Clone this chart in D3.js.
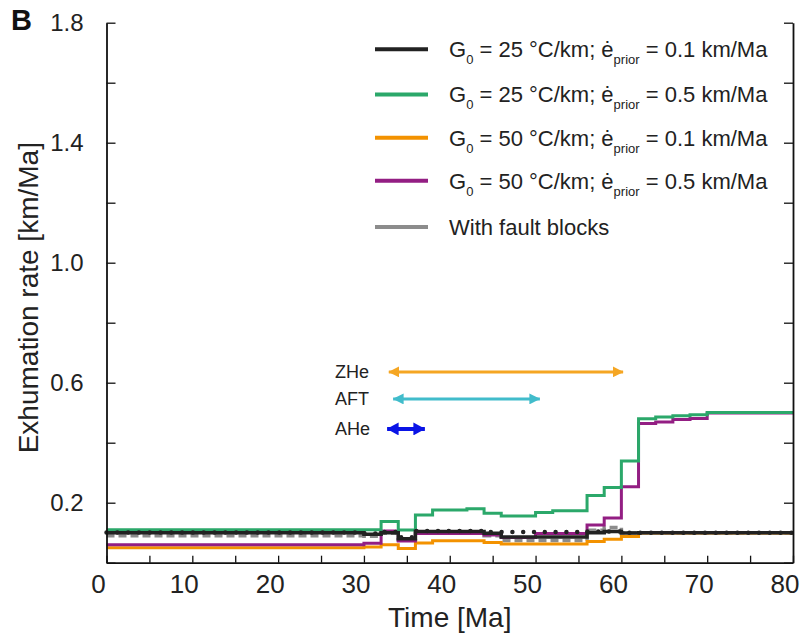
<!DOCTYPE html>
<html>
<head>
<meta charset="utf-8">
<script src="https://cdn.jsdelivr.net/npm/d3@7/dist/d3.min.js"></script>
<style>
  html, body { margin: 0; padding: 0; background: #fff; }
  svg { display: block; font-family: "Liberation Sans", Arial, Helvetica, sans-serif; }
</style>
</head>
<body>
<svg id="chart" width="803" height="638"></svg>
<script>
// Start of each 2 Ma time bin (the last bin ends at 80 Ma)
const binStarts = [0, 2, 4, 6, 8, 10, 12, 14, 16, 18, 20, 22, 24, 26, 28, 30, 32, 34, 36, 38,
                   40, 42, 44, 46, 48, 50, 52, 54, 56, 58, 60, 62, 64, 66, 68, 70, 72, 74, 76, 78];
const timeEnd = 80;

// Exhumation rate [km/Ma] per time bin
const rateG25e01 = [0.100, 0.100, 0.100, 0.100, 0.100, 0.100, 0.100, 0.100, 0.100, 0.100,
                    0.100, 0.100, 0.100, 0.100, 0.100, 0.095, 0.100, 0.080, 0.104, 0.104,
                    0.104, 0.104, 0.098, 0.086, 0.086, 0.086, 0.086, 0.086, 0.100, 0.104,
                    0.099, 0.100, 0.100, 0.100, 0.100, 0.100, 0.100, 0.100, 0.100, 0.100];
const rateG25e05 = [0.110, 0.110, 0.110, 0.110, 0.110, 0.110, 0.110, 0.110, 0.110, 0.110,
                    0.110, 0.110, 0.110, 0.110, 0.110, 0.110, 0.137, 0.109, 0.159, 0.176,
                    0.176, 0.180, 0.165, 0.156, 0.156, 0.167, 0.173, 0.173, 0.224, 0.251,
                    0.339, 0.480, 0.486, 0.490, 0.493, 0.501, 0.501, 0.501, 0.501, 0.501];
const rateG50e01 = [0.050, 0.050, 0.050, 0.050, 0.050, 0.050, 0.050, 0.050, 0.050, 0.050,
                    0.050, 0.050, 0.050, 0.050, 0.050, 0.052, 0.060, 0.047, 0.066, 0.073,
                    0.073, 0.073, 0.067, 0.062, 0.062, 0.062, 0.062, 0.062, 0.071, 0.078,
                    0.087, 0.099, 0.099, 0.099, 0.099, 0.099, 0.099, 0.099, 0.099, 0.099];
const rateG50e05 = [0.060, 0.060, 0.060, 0.060, 0.060, 0.060, 0.060, 0.060, 0.060, 0.060,
                    0.060, 0.060, 0.060, 0.060, 0.060, 0.065, 0.106, 0.072, 0.097, 0.097,
                    0.097, 0.097, 0.092, 0.084, 0.084, 0.097, 0.097, 0.097, 0.126, 0.149,
                    0.253, 0.464, 0.469, 0.477, 0.481, 0.499, 0.499, 0.499, 0.499, 0.499];
const rateDotted = [0.101, 0.101, 0.101, 0.101, 0.101, 0.101, 0.101, 0.101, 0.101, 0.101,
                    0.101, 0.101, 0.101, 0.101, 0.101, 0.097, 0.102, 0.085, 0.106, 0.106,
                    0.106, 0.106, 0.102, 0.102, 0.102, 0.102, 0.102, 0.102, 0.104, 0.104,
                    0.100, 0.100, 0.100, 0.100, 0.100, 0.100, 0.100, 0.100, 0.100, 0.100];
const rateFaultBlocks = [0.090, 0.090, 0.090, 0.090, 0.090, 0.090, 0.090, 0.090, 0.090, 0.090,
                    0.090, 0.090, 0.090, 0.090, 0.090, 0.088, 0.098, 0.076, 0.098, 0.098,
                    0.098, 0.098, 0.090, 0.074, 0.074, 0.074, 0.074, 0.074, 0.108, 0.117,
                    0.100, 0.100, 0.100, 0.100, 0.100, 0.100, 0.100, 0.100, 0.100, 0.100];

// Thermochronometer age ranges [Ma] and the rate level where each arrow sits
const chronoNames = ["ZHe", "AFT", "AHe"];
const chronoStart = [32.9, 33.4, 32.7];
const chronoEnd   = [60.2, 50.5, 37.1];
const chronoLevel = [0.636, 0.546, 0.446];
const chronoColors = ["#f5a623", "#41bccb", "#0a14e6"];

// Axis ticks
const xTicks = [0, 5, 10, 15, 20, 25, 30, 35, 40, 45, 50, 55, 60, 65, 70, 75, 80];
const xLabelled = [0, 10, 20, 30, 40, 50, 60, 70, 80];
const yTicks = [0, 0.2, 0.4, 0.6, 0.8, 1.0, 1.2, 1.4, 1.6, 1.8];
const yLabelled = [0.2, 0.6, 1.0, 1.4, 1.8];

// Legend
const legendLabels = [
  { g: "25", e: "0.1" },
  { g: "25", e: "0.5" },
  { g: "50", e: "0.1" },
  { g: "50", e: "0.5" },
  { text: "With fault blocks" }
];
const legendColors = ["#222222", "#2ba86a", "#f39200", "#931e83", "#8c8c8c"];

const svg = d3.select("#chart");
const plotL = 106.5, plotR = 793, plotT = 22.7, plotB = 562.7;

const x = d3.scaleLinear().domain([0, 80]).range([plotL, plotR]);
const y = d3.scaleLinear().domain([0, 1.8]).range([plotB, plotT]);

// ---- data lines ----
const stepLine = d3.line()
  .x(d => x(d[0]))
  .y(d => y(d[1]))
  .curve(d3.curveStepAfter);

function points(vals) {
  const p = binStarts.map((t, i) => [t, vals[i]]);
  p.push([timeEnd, vals[vals.length - 1]]);
  return p;
}

const series = [
  { vals: rateFaultBlocks, color: "#8c8c8c", width: 3.5, dash: "8,4", cap: "butt" },
  { vals: rateG50e01, color: "#f39200", width: 3, dash: null, cap: "butt" },
  { vals: rateG50e05, color: "#931e83", width: 3, dash: null, cap: "butt" },
  { vals: rateG25e05, color: "#2ba86a", width: 3, dash: null, cap: "butt" },
  { vals: rateG25e01, color: "#222222", width: 3.5, dash: null, cap: "butt" },
  { vals: rateDotted, color: "#222222", width: 4.5, dash: "0,10.8", cap: "round" }
];

const gLines = svg.append("g");
series.forEach(s => {
  gLines.append("path")
    .datum(points(s.vals))
    .attr("d", stepLine)
    .attr("fill", "none")
    .attr("stroke", s.color)
    .attr("stroke-width", s.width)
    .attr("stroke-linecap", s.cap)
    .attr("stroke-linejoin", "miter")
    .attr("stroke-dasharray", s.dash);
});

// ---- axes ----
const fmtX = d => xLabelled.includes(d) ? d3.format("d")(d) : "";
const fmtY = d => yLabelled.some(v => Math.abs(v - d) < 1e-9) ? d3.format(".1f")(d) : "";

const xAxis = svg.append("g")
  .attr("transform", `translate(0,${plotB})`)
  .call(d3.axisBottom(x).tickValues(xTicks).tickSize(-7).tickSizeOuter(0).tickFormat(fmtX));
xAxis.selectAll("text")
  .attr("font-size", 26)
  .attr("fill", "#222")
  .attr("dx", -8.5)
  .attr("y", 12)
  .attr("dy", "0.71em");

const yAxis = svg.append("g")
  .attr("transform", `translate(${plotL},0)`)
  .call(d3.axisLeft(y).tickValues(yTicks).tickSize(-9).tickSizeOuter(0).tickFormat(fmtY));
yAxis.selectAll("text")
  .attr("font-size", 24)
  .attr("fill", "#222")
  .attr("x", -23);

const yAxisR = svg.append("g")
  .attr("transform", `translate(${plotR},0)`)
  .call(d3.axisRight(y).tickValues(yTicks).tickSize(-9).tickSizeOuter(0).tickFormat(""));

svg.selectAll(".domain").attr("stroke", "#111").attr("stroke-width", 1.8);
svg.selectAll(".tick line").attr("stroke", "#111").attr("stroke-width", 1.3);

// axis titles
svg.append("text")
  .attr("x", (plotL + plotR) / 2)
  .attr("y", 627)
  .attr("text-anchor", "middle")
  .attr("font-size", 28)
  .attr("fill", "#222")
  .text("Time [Ma]");

svg.append("text")
  .attr("transform", `translate(38,${(plotT + plotB) / 2 + 5}) rotate(-90)`)
  .attr("text-anchor", "middle")
  .attr("font-size", 28)
  .attr("fill", "#222")
  .text("Exhumation rate [km/Ma]");

// panel letter
svg.append("text")
  .attr("x", 11)
  .attr("y", 30)
  .attr("font-size", 29)
  .attr("font-weight", "bold")
  .attr("fill", "#111")
  .text("B");

// ---- thermochronometer age-range arrows ----
const defs = svg.append("defs");
chronoColors.forEach((c, i) => {
  const big = chronoNames[i] === "AHe";
  const L = big ? 12 : 11, W = big ? 13 : 11;
  defs.append("marker")
    .attr("id", "arrow" + i)
    .attr("markerUnits", "userSpaceOnUse")
    .attr("markerWidth", L)
    .attr("markerHeight", W)
    .attr("refX", L - 0.5)
    .attr("refY", W / 2)
    .attr("orient", "auto-start-reverse")
    .append("path")
    .attr("d", `M0,0L${L},${W / 2}L0,${W}Z`)
    .attr("fill", c);
});

const gArrows = svg.append("g");
chronoNames.forEach((name, i) => {
  const yy = y(chronoLevel[i]);
  gArrows.append("line")
    .attr("x1", x(chronoStart[i]))
    .attr("x2", x(chronoEnd[i]))
    .attr("y1", yy)
    .attr("y2", yy)
    .attr("stroke", chronoColors[i])
    .attr("stroke-width", name === "AHe" ? 4 : 3)
    .attr("marker-start", `url(#arrow${i})`)
    .attr("marker-end", `url(#arrow${i})`);
  gArrows.append("text")
    .attr("x", 335)
    .attr("y", yy)
    .attr("dy", "0.35em")
    .attr("font-size", 18)
    .attr("fill", "#222")
    .text(name);
});

// ---- legend ----
const legendRowY = [49.3, 94.4, 137.8, 180.8, 227];
const gLeg = svg.append("g");
legendLabels.forEach((lab, i) => {
  const ly = legendRowY[i];
  gLeg.append("line")
    .attr("x1", 375).attr("x2", 428)
    .attr("y1", ly).attr("y2", ly)
    .attr("stroke", legendColors[i])
    .attr("stroke-width", 4);
  const t = gLeg.append("text")
    .attr("x", 449)
    .attr("y", ly + 7.8)
    .attr("font-size", 22)
    .attr("fill", "#222");
  if (lab.text) {
    t.text(lab.text);
  } else {
    t.append("tspan").text("G");
    t.append("tspan").attr("font-size", 13).attr("dy", 7).text("0");
    t.append("tspan").attr("dy", -7).text(` = ${lab.g} °C/km; ė`);
    t.append("tspan").attr("font-size", 13).attr("dy", 7).text("prior");
    t.append("tspan").attr("dy", -7).text(` = ${lab.e} km/Ma`);
  }
});
</script>
</body>
</html>
